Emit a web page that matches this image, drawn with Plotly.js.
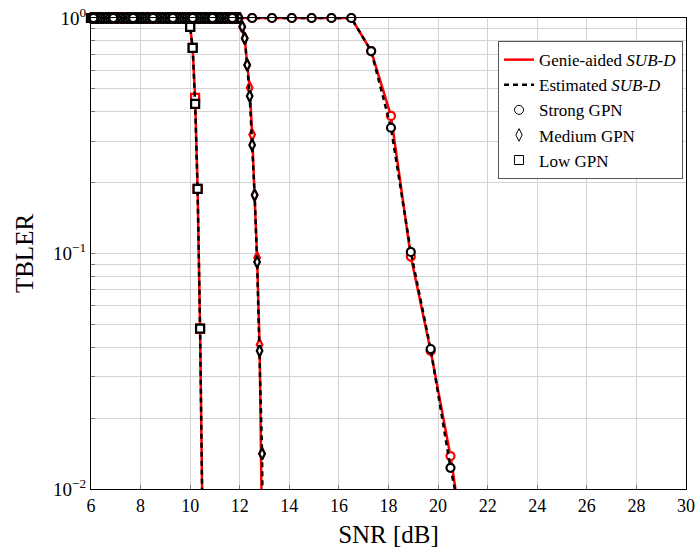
<!DOCTYPE html>
<html>
<head>
<meta charset="utf-8">
<script src="https://cdn.plot.ly/plotly-3.0.1.min.js"></script>
<style>html,body{margin:0;padding:0;background:#fff;}#chart{width:697px;height:548px;}</style>
</head>
<body>
<div id="chart"></div>
<script>
// ---- Data ----
const snrLow = [6.0,6.1,6.2,6.3,6.4,6.5,6.6,6.7,6.8,6.9,7.0,7.1,7.2,7.3,7.4,7.5,7.6,7.7,7.8,7.9,
  8.0,8.1,8.2,8.3,8.4,8.5,8.6,8.7,8.8,8.9,9.0,9.1,9.2,9.3,9.4,9.5,9.6,9.7,9.8,9.9,
  10.0,10.1,10.2,10.3,10.4,10.5];
const lowGenie = [1,1,1,1,1,1,1,1,1,1,1,1,1,1,1,1,1,1,1,1,
  1,1,1,1,1,1,1,1,1,1,1,1,1,1,1,1,1,1,1,1,
  0.916,0.746,0.458,0.188,0.048,0.0068];
const lowEst = [1,1,1,1,1,1,1,1,1,1,1,1,1,1,1,1,1,1,1,1,
  1,1,1,1,1,1,1,1,1,1,1,1,1,1,1,1,1,1,1,1,
  0.916,0.746,0.432,0.188,0.048,0.0068];

const snrMed = [6.0,6.1,6.2,6.3,6.4,6.5,6.6,6.7,6.8,6.9,7.0,7.1,7.2,7.3,7.4,7.5,7.6,7.7,7.8,7.9,
  8.0,8.1,8.2,8.3,8.4,8.5,8.6,8.7,8.8,8.9,9.0,9.1,9.2,9.3,9.4,9.5,9.6,9.7,9.8,9.9,
  10.0,10.1,10.2,10.3,10.4,10.5,10.6,10.7,10.8,10.9,11.0,11.1,11.2,11.3,11.4,11.5,11.6,11.7,11.8,11.9,
  12.0,12.1,12.2,12.3,12.4,12.5,12.6,12.7,12.8,12.9,13.0];
const medGenie = [1,1,1,1,1,1,1,1,1,1,1,1,1,1,1,1,1,1,1,1,
  1,1,1,1,1,1,1,1,1,1,1,1,1,1,1,1,1,1,1,1,
  1,1,1,1,1,1,1,1,1,1,1,1,1,1,1,1,1,1,1,1,
  1,0.918,0.82,0.632,0.506,0.32,0.177,0.096,0.041,0.0141,0.001];
const medEst = [1,1,1,1,1,1,1,1,1,1,1,1,1,1,1,1,1,1,1,1,
  1,1,1,1,1,1,1,1,1,1,1,1,1,1,1,1,1,1,1,1,
  1,1,1,1,1,1,1,1,1,1,1,1,1,1,1,1,1,1,1,1,
  1,0.918,0.82,0.632,0.466,0.289,0.177,0.092,0.0386,0.0141,0.001];

const snrStrong = [6.1,6.9,7.7,8.5,9.3,10.1,10.9,11.7,12.5,13.3,14.1,14.9,15.7,16.5,17.3,18.1,18.9,19.7,20.5,21.3];
const strongGenie = [1,1,1,1,1,1,1,1,1,1,1,1,1,1,0.724,0.384,0.097,0.0386,0.0138,0.0038];
const strongEst   = [1,1,1,1,1,1,1,1,1,1,1,1,1,1,0.724,0.342,0.1015,0.0393,0.0123,0.0048];

const xTicks = [6,8,10,12,14,16,18,20,22,24,26,28,30];
const yTickVals = [0.01,0.02,0.03,0.04,0.05,0.06,0.07,0.08,0.09,0.1,0.2,0.3,0.4,0.5,0.6,0.7,0.8,0.9,1];
const yTickText = ['10<sup>−2</sup>',' ',' ',' ',' ',' ',' ',' ',' ','10<sup>−1</sup>',' ',' ',' ',' ',' ',' ',' ',' ','10<sup>0</sup>'];

const legendNames = ['Genie-aided <i>SUB-D</i>','Estimated <i>SUB-D</i>','Strong GPN','Medium GPN','Low GPN'];

// ---- Styles ----
const RED = '#ff0000', BLACK = '#000000';
const FONT = 'Liberation Serif, DejaVu Serif, serif';

function curve(x, y, color, dash, symbol) {
  return {
    x: x, y: y, type: 'scatter', mode: 'lines+markers', showlegend: false, cliponaxis: false,
    line: {color: color, width: 2.5, dash: dash},
    marker: {symbol: symbol, size: 8, color: '#ffffff', line: {color: color, width: 2.2}},
    hoverinfo: 'skip'
  };
}

const traces = [
  // legend-only entries
  {x:[null], y:[null], type:'scatter', mode:'lines', name: legendNames[0], line:{color:RED, width:2.5}},
  {x:[null], y:[null], type:'scatter', mode:'lines', name: legendNames[1], line:{color:BLACK, width:2.5, dash:'5px,4px'}},
  {x:[null], y:[null], type:'scatter', mode:'markers', name: legendNames[2], marker:{symbol:'circle-open', size:9, color:BLACK, line:{color:BLACK, width:1}}},
  {x:[null], y:[null], type:'scatter', mode:'markers', name: legendNames[3], marker:{symbol:'diamond-tall-open', size:9, color:BLACK, line:{color:BLACK, width:1}}},
  {x:[null], y:[null], type:'scatter', mode:'markers', name: legendNames[4], marker:{symbol:'square-open', size:9, color:BLACK, line:{color:BLACK, width:1}}},
  // genie-aided (red)
  curve(snrLow, lowGenie, RED, 'solid', 'square'),
  curve(snrMed, medGenie, RED, 'solid', 'diamond-tall'),
  curve(snrStrong, strongGenie, RED, 'solid', 'circle'),
  // estimated (black dashed)
  curve(snrLow, lowEst, BLACK, '5px,4px', 'square'),
  curve(snrMed, medEst, BLACK, '5px,4px', 'diamond-tall'),
  curve(snrStrong, strongEst, BLACK, '5px,4px', 'circle')
];

const layout = {
  width: 697, height: 548,
  margin: {l: 91, r: 11, t: 18, b: 59, pad: 0},
  paper_bgcolor: '#ffffff', plot_bgcolor: '#ffffff',
  font: {family: FONT, color: '#000000', size: 18},
  showlegend: true,
  legend: {
    x: 0.995, y: 0.951, xanchor: 'right', yanchor: 'top',
    bgcolor: '#ffffff', bordercolor: '#555555', borderwidth: 1,
    font: {family: FONT, size: 17, color: '#000000'},
    tracegroupgap: 0, itemwidth: 30
  },
  xaxis: {
    range: [6, 30], tickvals: xTicks, ticktext: xTicks.map(String),
    showgrid: true, gridcolor: '#d3d3d3', gridwidth: 1,
    zeroline: false, showline: true, mirror: true, linecolor: '#000000', linewidth: 1,
    ticks: 'inside', ticklen: 4, tickcolor: '#777777',
    tickfont: {family: FONT, size: 18},
    title: {text: 'SNR [dB]', font: {family: FONT, size: 25}, standoff: 10}
  },
  yaxis: {
    type: 'log', range: [-2, 0], tickvals: yTickVals, ticktext: yTickText,
    showgrid: true, gridcolor: '#d3d3d3', gridwidth: 1,
    zeroline: false, showline: true, mirror: true, linecolor: '#000000', linewidth: 1,
    ticks: 'inside', ticklen: 4, tickcolor: '#777777',
    tickfont: {family: FONT, size: 19},
    title: {text: 'TBLER', font: {family: FONT, size: 25}, standoff: 12}
  }
};

Plotly.newPlot('chart', traces, layout, {displayModeBar: false, staticPlot: true});
</script>
</body>
</html>
